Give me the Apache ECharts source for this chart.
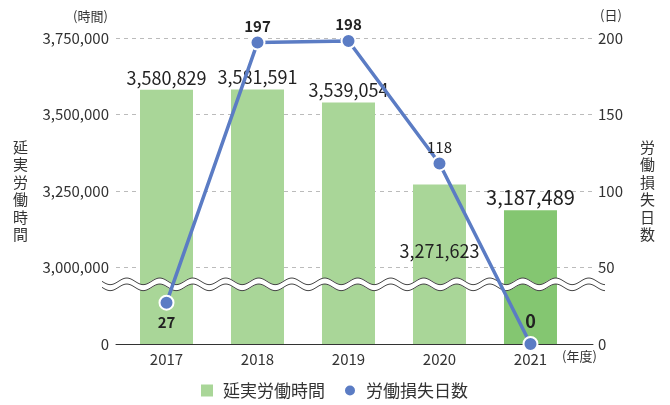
<!DOCTYPE html>
<html lang="ja">
<head>
<meta charset="utf-8">
<title>延実労働時間と労働損失日数</title>
<script src="https://cdn.jsdelivr.net/npm/echarts@6/dist/echarts.min.js"></script>
<style>
html,body{margin:0;padding:0;background:#fff;}
#chart{width:670px;height:405px;}
</style>
</head>
<body>
<div id="chart"></div>
<script>
var years = ['2017', '2018', '2019', '2020', '2021'];
var hours = [3580829, 3581591, 3539054, 3271623, 3187489];
var lostDays = [27, 197, 198, 118, 0];
var leftTicks = [2750000, 3750000, 250000]; // min, max, interval (min shown as "0")
var rightTicks = [0, 200, 50];

var font = '"Noto Sans CJK JP", "Noto Sans", sans-serif';
var txt = '#333';

function fmt(v) {
	return String(v).replace(/\B(?=(\d{3})+(?!\d))/g, ',');
}

var barData = hours.map(function (v, i) {
	var d = {value: [i, v]};
	if (i === 4) {
		d.itemStyle = {color: '#84c671'};
		d.label = {fontSize: 20};
	}
	if (i === 3) {
		d.label = {position: 'insideTop', distance: 58};
	}
	return d;
});

var lineData = lostDays.map(function (v, i) {
	var d = {value: [i, v]};
	if (i === 0) d.label = {position: 'bottom', distance: 4};
	if (i === 3) d.label = {fontWeight: 'normal'};
	if (i === 4) d.label = {fontSize: 18, distance: 6};
	return d;
});

var chart = echarts.init(document.getElementById('chart'));
chart.setOption({
	animation: false,
	textStyle: {fontFamily: font},
	grid: {left: 116, right: 77, top: 38, bottom: 61},
	legend: {
		bottom: 1,
		left: 196,
		itemWidth: 12,
		itemHeight: 12,
		itemGap: 18,
		textStyle: {fontSize: 17, color: txt, fontFamily: font, padding: [0, 0, 0, 5]},
		data: [{name: '延実労働時間', icon: 'rect'}, {name: '労働損失日数', icon: 'circle'}]
	},
	xAxis: {
		type: 'value',
		min: -0.555,
		max: 4.687,
		axisLine: {show: true, onZero: false, lineStyle: {color: '#333', width: 1}},
		axisTick: {show: false},
		splitLine: {show: false},
		axisLabel: {
			fontSize: 15, color: txt, margin: 8,
			customValues: years.map(function (y, i) { return i; }),
			formatter: function (v) { return years[Math.round(v)]; }
		}
	},
	yAxis: [{
		type: 'value',
		min: leftTicks[0],
		max: leftTicks[1],
		interval: leftTicks[2],
		name: '延\n実\n労\n働\n時\n間',
		nameLocation: 'middle',
		nameRotate: 0,
		nameGap: 88,
		nameTextStyle: {fontSize: 15, color: txt, lineHeight: 17.5},
		axisLine: {show: false},
		axisTick: {show: false},
		axisLabel: {
			fontSize: 15, color: txt, margin: 7,
			formatter: function (v) { return v === leftTicks[0] ? '0' : fmt(v); }
		},
		splitLine: {lineStyle: {color: '#bbb', type: [4, 4]}}
	}, {
		type: 'value',
		min: rightTicks[0],
		max: rightTicks[1],
		interval: rightTicks[2],
		name: '労\n働\n損\n失\n日\n数',
		nameLocation: 'middle',
		nameRotate: 0,
		nameGap: 47,
		nameTextStyle: {fontSize: 15, color: txt, lineHeight: 17.5},
		axisLine: {show: false},
		axisTick: {show: false},
		axisLabel: {fontSize: 15, color: txt, margin: 5},
		splitLine: {show: false}
	}],
	series: [{
		name: '延実労働時間',
		type: 'bar',
		yAxisIndex: 0,
		barWidth: 53,
		z: 1,
		itemStyle: {color: '#a9d698'},
		label: {
			show: true, position: 'top', distance: 3,
			fontSize: 18, color: '#222',
			formatter: function (p) { return fmt(p.value[1]); }
		},
		data: barData
	}, {
		name: '労働損失日数',
		type: 'line',
		yAxisIndex: 1,
		z: 10,
		symbol: 'circle',
		symbolSize: 14,
		lineStyle: {color: '#5b7cc4', width: 3.5},
		itemStyle: {color: '#5b7cc4', borderColor: '#fff', borderWidth: 2},
		label: {
			show: true, position: 'top', distance: 1,
			fontSize: 15, fontWeight: 'bold', color: '#222',
			formatter: function (p) { return p.value[1]; }
		},
		data: lineData
	}]
});

// axis break marker and unit labels
var yBreak = chart.convertToPixel({yAxisIndex: 1}, 39);
function wave(dy) {
	var pts = [];
	for (var x = 102; x <= 605; x += 1) {
		pts.push([x, yBreak + dy + 3.3 * Math.sin((x - 102) / 33 * Math.PI * 2)]);
	}
	return pts;
}
chart.setOption({
	graphic: [
		{type: 'polyline', z: 5, shape: {points: wave(0)}, style: {stroke: '#fff', lineWidth: 6, fill: null}},
		{type: 'polyline', z: 6, shape: {points: wave(-3)}, style: {stroke: '#444', lineWidth: 1, fill: null}},
		{type: 'polyline', z: 6, shape: {points: wave(3)}, style: {stroke: '#444', lineWidth: 1, fill: null}},
		{type: 'text', left: 73, top: 10, style: {text: '(時間)', fill: txt, font: '13px ' + font}},
		{type: 'text', left: 600, top: 9, style: {text: '(日)', fill: txt, font: '13px ' + font}},
		{type: 'text', left: 562, top: 350, style: {text: '(年度)', fill: txt, font: '13px ' + font}}
	]
});
</script>
</body>
</html>
